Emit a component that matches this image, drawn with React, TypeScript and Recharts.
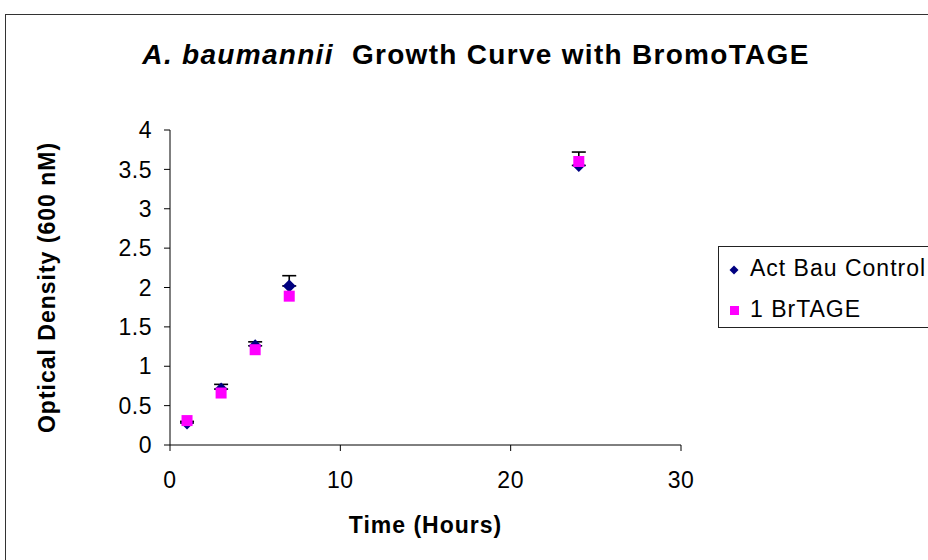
import React from "react";
import { ScatterChart, Scatter, XAxis, YAxis, ErrorBar, Label } from "recharts";

const hours = [1, 3, 5, 7, 24];
const controlOD = [0.28, 0.71, 1.26, 2.02, 3.55];
const controlErr = [0.02, 0.06, 0.05, 0.13, 0.17];
const brtageOD = [0.31, 0.66, 1.21, 1.89, 3.6];
const xTicks = [0, 10, 20, 30];
const yTicks = [0, 0.5, 1, 1.5, 2, 2.5, 3, 3.5, 4];
const seriesNames = ["Act Bau Control", "1 BrTAGE"];

const controlData = hours.map((h, i) => ({ x: h, y: controlOD[i], err: [0, controlErr[i]] }));
const brtageData = hours.map((h, i) => ({ x: h, y: brtageOD[i] }));

const FONT = "'Liberation Sans', Arial, sans-serif";
const NAVY = "#000080";
const MAGENTA = "#FF00FF";

const Diamond = (props: any) => {
  const { cx, cy } = props;
  const r = 6.5;
  return <polygon points={`${cx},${cy - r} ${cx + r},${cy} ${cx},${cy + r} ${cx - r},${cy}`} fill={NAVY} />;
};
const Square = (props: any) => {
  const { cx, cy } = props;
  const s = 11;
  return <rect x={cx - s / 2} y={cy - s / 2} width={s} height={s} fill={MAGENTA} />;
};

const LegendBox = () => (
  <div
    style={{
      position: "absolute",
      left: 718,
      top: 246,
      width: 240,
      height: 82,
      border: "1px solid #222",
      boxSizing: "border-box",
      background: "#fff",
      fontFamily: FONT,
      fontSize: 23,
      letterSpacing: 1,
    }}
  >
    <svg width={30} height={80} style={{ position: "absolute", left: 0, top: 0 }}>
      <polygon points="15,18.5 19.5,23 15,27.5 10.5,23" fill={NAVY} />
      <rect x={11} y={59} width={9} height={9} fill={MAGENTA} />
    </svg>
    <div style={{ position: "absolute", left: 31, top: 8, whiteSpace: "nowrap", lineHeight: "26px" }}>{seriesNames[0]}</div>
    <div style={{ position: "absolute", left: 31, top: 49, whiteSpace: "nowrap", lineHeight: "26px" }}>{seriesNames[1]}</div>
  </div>
);

export default function App() {
  const tickStyle = { fill: "#000", fontSize: 23, fontFamily: FONT, letterSpacing: 0.5 };
  const labelStyle = { fontWeight: "bold", fontSize: 23, fontFamily: FONT, fill: "#000", letterSpacing: 1 };
  return (
    <div style={{ position: "absolute", left: 0, top: 0, width: 928, height: 560, overflow: "hidden", background: "#fff" }}>
      <div
        style={{
          position: "absolute",
          left: 5,
          top: 14,
          width: 960,
          height: 600,
          border: "1px solid #333",
          boxSizing: "border-box",
        }}
      />
      <div
        style={{
          position: "absolute",
          left: 0,
          width: 952,
          top: 39,
          textAlign: "center",
          fontFamily: FONT,
          fontWeight: "bold",
          fontSize: 28,
          letterSpacing: 1.3,
          lineHeight: "32px",
          whiteSpace: "nowrap",
        }}
      >
        <i>A. baumannii</i>&nbsp; Growth Curve with BromoTAGE
      </div>
      <div style={{ position: "absolute", left: 0, top: 0 }}>
        <ScatterChart width={928} height={560} margin={{ top: 130, right: 247, bottom: 75, left: 110 }}>
          <XAxis
            type="number"
            dataKey="x"
            domain={[0, 30]}
            ticks={xTicks}
            height={40}
            tickSize={6}
            tickMargin={21}
            axisLine={{ stroke: "#000" }}
            tickLine={{ stroke: "#000" }}
            tick={tickStyle}
          >
            <Label value="Time (Hours)" position="insideBottom" offset={-48} style={labelStyle} />
          </XAxis>
          <YAxis
            type="number"
            dataKey="y"
            domain={[0, 4]}
            ticks={yTicks}
            width={60}
            tickSize={6}
            tickMargin={12}
            axisLine={{ stroke: "#000" }}
            tickLine={{ stroke: "#000" }}
            tick={tickStyle}
          >
            <Label
              value="Optical Density (600 nM)"
              angle={-90}
              position="insideLeft"
              offset={-63}
              style={{ ...labelStyle, textAnchor: "middle" }}
            />
          </YAxis>
          <Scatter name={seriesNames[0]} data={controlData} shape={<Diamond />} isAnimationActive={false}>
            <ErrorBar dataKey="err" direction="y" width={7} stroke="#000" strokeWidth={1.6} />
          </Scatter>
          <Scatter name={seriesNames[1]} data={brtageData} shape={<Square />} isAnimationActive={false} />
        </ScatterChart>
      </div>
      <LegendBox />
    </div>
  );
}
